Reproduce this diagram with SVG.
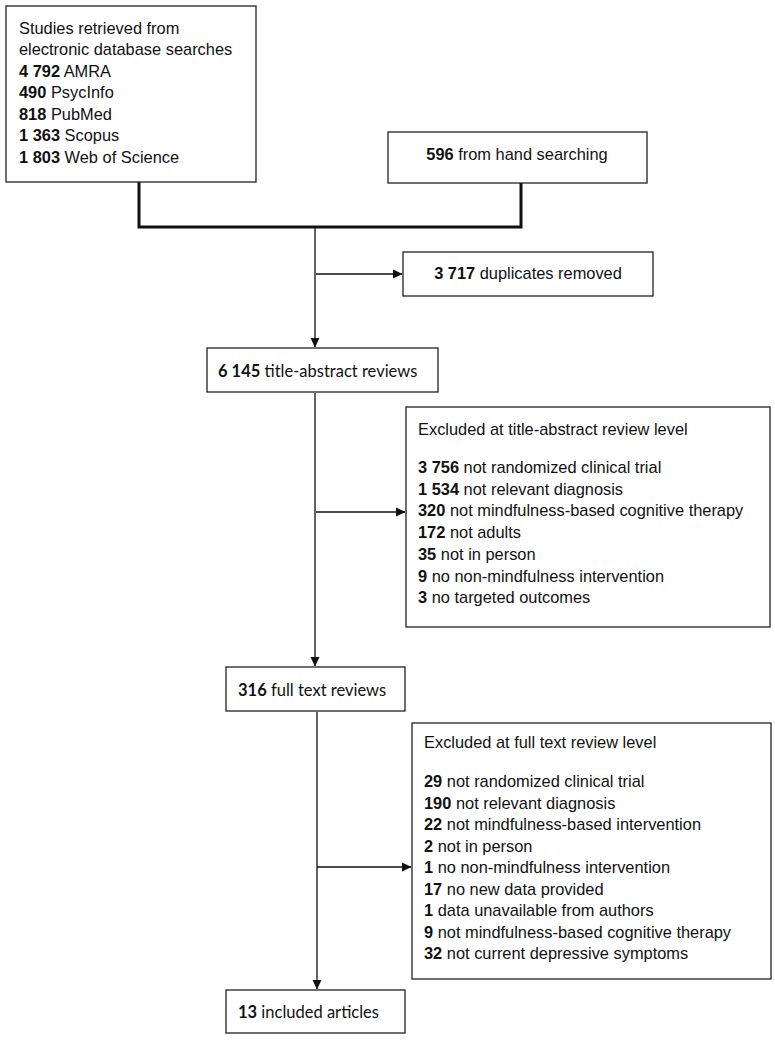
<svg xmlns="http://www.w3.org/2000/svg" width="775" height="1041" viewBox="0 0 775 1041">
<style>
.box{fill:#fff;stroke:#222;stroke-width:1.3}
.a{font-family:"Liberation Sans",Arial,sans-serif;font-size:16.4px;fill:#111}
.c{font-family:Lato,"Liberation Sans",sans-serif;font-size:16.5px;fill:#111}
.b{font-weight:bold}
.ln{fill:none;stroke:#111;stroke-width:1.3}
.thick{fill:none;stroke:#111;stroke-width:3}
</style>
<defs>
<marker id="ah" markerWidth="10" markerHeight="10" refX="9" refY="5" orient="auto" markerUnits="userSpaceOnUse">
<path d="M0,0.5 L9.5,5 L0,9.5 Z" fill="#111"/>
</marker>
</defs>
<rect width="775" height="1041" fill="#fff"/>
<g id="connectors">
<path class="thick" d="M139,182 V227 H521 V183"/>
<path class="ln" d="M315,227 V347" marker-end="url(#ah)"/>
<path class="ln" d="M316,274 H402" marker-end="url(#ah)"/>
<path class="ln" d="M315,393 V666" marker-end="url(#ah)"/>
<path class="ln" d="M316,512 H405" marker-end="url(#ah)"/>
<path class="ln" d="M317,712 V989" marker-end="url(#ah)"/>
<path class="ln" d="M317,867 H411" marker-end="url(#ah)"/>
</g>
<g id="n1">
<rect class="box" x="6" y="6" width="250" height="176"/>
<text class="a" x="19" y="34">Studies retrieved from</text>
<text class="a" x="19" y="55">electronic database searches</text>
<text class="a" x="19" y="77"><tspan class="b">4 792</tspan> AMRA</text>
<text class="a" x="19" y="98"><tspan class="b">490</tspan> PsycInfo</text>
<text class="a" x="19" y="120"><tspan class="b">818</tspan> PubMed</text>
<text class="a" x="19" y="141"><tspan class="b">1 363</tspan> Scopus</text>
<text class="a" x="19" y="163"><tspan class="b">1 803</tspan> Web of Science</text>
</g>
<g id="n2">
<rect class="box" x="388" y="132" width="259" height="51"/>
<text class="a" x="517" y="160" text-anchor="middle"><tspan class="b">596</tspan> from hand searching</text>
</g>
<g id="n3">
<rect class="box" x="403" y="252" width="250" height="44"/>
<text class="a" x="528" y="279" text-anchor="middle"><tspan class="b">3 717</tspan> duplicates removed</text>
</g>
<g id="n4">
<rect class="box" x="207" y="348" width="231" height="44"/>
<text class="c" x="218" y="377"><tspan class="b">6 145</tspan> title-abstract reviews</text>
</g>
<g id="n5">
<rect class="box" x="406" y="407" width="364" height="220"/>
<text class="a" x="418" y="435">Excluded at title-abstract review level</text>
<text class="a" x="418" y="473"><tspan class="b">3 756</tspan> not randomized clinical trial</text>
<text class="a" x="418" y="494.7"><tspan class="b">1 534</tspan> not relevant diagnosis</text>
<text class="a" x="418" y="516.4"><tspan class="b">320</tspan> not mindfulness-based cognitive therapy</text>
<text class="a" x="418" y="538.1"><tspan class="b">172</tspan> not adults</text>
<text class="a" x="418" y="559.8"><tspan class="b">35</tspan> not in person</text>
<text class="a" x="418" y="581.5"><tspan class="b">9</tspan> no non-mindfulness intervention</text>
<text class="a" x="418" y="603.2"><tspan class="b">3</tspan> no targeted outcomes</text>
</g>
<g id="n6">
<rect class="box" x="226" y="667" width="179" height="44"/>
<text class="c" x="238" y="696"><tspan class="b">316</tspan> full text reviews</text>
</g>
<g id="n7">
<rect class="box" x="412" y="723" width="359" height="256"/>
<text class="a" x="424" y="748">Excluded at full text review level</text>
<text class="a" x="424" y="787"><tspan class="b">29</tspan> not randomized clinical trial</text>
<text class="a" x="424" y="808.5"><tspan class="b">190</tspan> not relevant diagnosis</text>
<text class="a" x="424" y="830"><tspan class="b">22</tspan> not mindfulness-based intervention</text>
<text class="a" x="424" y="851.5"><tspan class="b">2</tspan> not in person</text>
<text class="a" x="424" y="873"><tspan class="b">1</tspan> no non-mindfulness intervention</text>
<text class="a" x="424" y="894.5"><tspan class="b">17</tspan> no new data provided</text>
<text class="a" x="424" y="916"><tspan class="b">1</tspan> data unavailable from authors</text>
<text class="a" x="424" y="937.5"><tspan class="b">9</tspan> not mindfulness-based cognitive therapy</text>
<text class="a" x="424" y="959"><tspan class="b">32</tspan> not current depressive symptoms</text>
</g>
<g id="n8">
<rect class="box" x="226" y="990" width="179" height="43"/>
<text class="c" x="238" y="1018"><tspan class="b">13</tspan> included articles</text>
</g>
</svg>
